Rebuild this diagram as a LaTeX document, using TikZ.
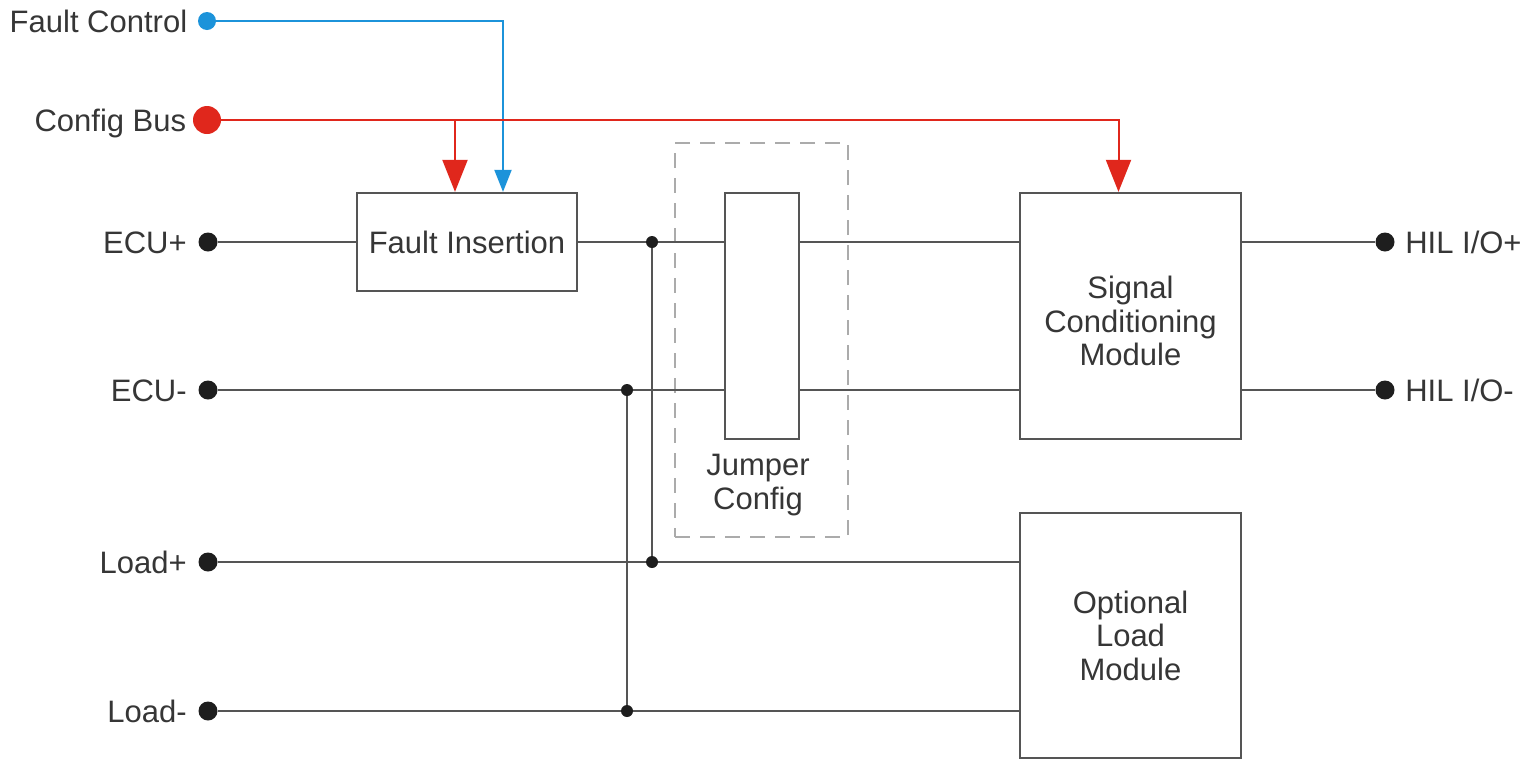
\documentclass[tikz,border=0pt]{standalone}
\usepackage{fontspec}
\setmainfont{Liberation Sans}
\usetikzlibrary{arrows.meta,calc}
\definecolor{wirecol}{HTML}{555555}
\definecolor{textcol}{HTML}{363636}
\definecolor{dotcol}{HTML}{1E1E1E}
\definecolor{ctrlblue}{HTML}{1C93DA}
\definecolor{busred}{HTML}{E0271C}
\definecolor{framecol}{HTML}{ABABAB}
\tikzset{
  wire/.style={draw=wirecol, line width=1.15pt},
  block/.style={draw=wirecol, line width=1.15pt, fill=white, inner sep=0pt,
    align=center, text=textcol, font=\fontsize{15.5}{16.75}\selectfont},
  frame/.style={draw=framecol, line width=1pt, dash pattern=on 7.5pt off 5pt, inner sep=0pt},
  term/.style={circle, fill=dotcol, inner sep=0pt, minimum size=9.5pt},
  junc/.style={circle, fill=dotcol, inner sep=0pt, minimum size=6pt},
  lbl/.style={inner sep=0pt, text=textcol, font=\fontsize{15.5}{16.75}\selectfont},
  ctrl/.style={draw=ctrlblue, line width=1pt, -{Triangle[width=8.5pt,length=11pt]}},
  bus/.style={draw=busred, line width=1pt, -{Triangle[width=12.5pt,length=16pt]}},
}
\begin{document}
\begin{tikzpicture}[x=0.5pt, y=-0.5pt]
\useasboundingbox (0,0) rectangle (1532,761);

% jumper area frame
\node[frame, minimum width=86.5pt, minimum height=197pt] (jf) at (761.5,340) {};

% blocks
\node[block, minimum width=110pt, minimum height=49pt] (fi) at (467,242) {Fault Insertion};
\node[block, minimum width=37pt, minimum height=123pt] (jb) at (762,316) {};
\node[block, minimum width=110.5pt, minimum height=123pt] (sc) at (1130.5,316) {};
\node[lbl, align=center] (sc-t) at ($(sc.center)+(0,5)$) {Signal\\Conditioning\\Module};
\node[block, minimum width=110.5pt, minimum height=122.5pt] (lm) at (1130.5,635.5) {Optional\\Load\\Module};
\node[lbl, align=center] (jl) at (758,485) {Jumper\\Config};

% terminals
\node[term] (ecup) at (208,242) {};
\node[term] (ecum) at (208,390) {};
\node[term] (loadp) at (208,562) {};
\node[term] (loadm) at (208,711) {};
\node[term] (hilp) at (1385,242) {};
\node[term] (hilm) at (1385,390) {};
\node[circle, fill=ctrlblue, inner sep=0pt, minimum size=9pt] (fc) at (207,21) {};
\node[circle, fill=busred, inner sep=0pt, minimum size=14pt] (cb) at (207,120) {};

% terminal labels
\node[lbl, anchor=base east] (fc-t) at ($(fc.west)+(-10,11)$) {Fault Control};
\node[lbl, anchor=base east] (cb-t) at ($(cb.west)+(-6,11)$) {Config Bus};
\node[lbl, anchor=base east] (ecup-t) at ($(ecup.west)+(-11,11)$) {ECU+};
\node[lbl, anchor=base east] (ecum-t) at ($(ecum.west)+(-11,11)$) {ECU-};
\node[lbl, anchor=base east] (loadp-t) at ($(loadp.west)+(-11,11)$) {Load+};
\node[lbl, anchor=base east] (loadm-t) at ($(loadm.west)+(-11,11)$) {Load-};
\node[lbl, anchor=base west] (hilp-t) at ($(hilp.east)+(10,11)$) {HIL I/O+};
\node[lbl, anchor=base west] (hilm-t) at ($(hilm.east)+(10,11)$) {HIL I/O-};

% junction points
\coordinate (j1) at (652,242);
\coordinate (j2) at (652,562);
\coordinate (j3) at (627,390);
\coordinate (j4) at (627,711);

% ECU+ path
\draw[wire] (ecup) -- (fi);
\draw[wire] (fi.east) -- (jb.west |- fi.east);
\draw[wire] (jb.east |- fi.east) -- (sc.west |- fi.east);
\draw[wire] (sc.east |- fi.east) -- (hilp);
% ECU- path
\draw[wire] (ecum) -- (jb.west |- ecum);
\draw[wire] (jb.east |- ecum) -- (sc.west |- ecum);
\draw[wire] (sc.east |- ecum) -- (hilm);
% load lines
\draw[wire] (loadp) -- (lm.west |- loadp);
\draw[wire] (loadm) -- (lm.west |- loadm);
% cross links
\draw[wire] (j1) -- (j2);
\draw[wire] (j3) -- (j4);
\foreach \j in {j1,j2,j3,j4} \node[junc] at (\j) {};

% control and configuration buses
\coordinate (fiBlue) at ([xshift=18pt]fi.north);
\coordinate (fiRed) at ([xshift=-6pt]fi.north);
\coordinate (scRed) at ([xshift=-6pt]sc.north);
\draw[ctrl] (fc) -| (fiBlue);
\draw[bus] (cb) -| (scRed);
\draw[bus] (fiRed |- cb) -- (fiRed);
\end{tikzpicture}
\end{document}
